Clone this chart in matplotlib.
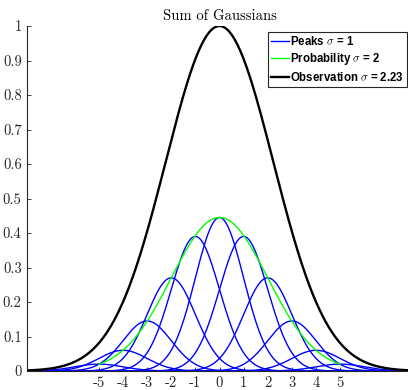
import numpy as np
import matplotlib
matplotlib.use('Agg')
import matplotlib.pyplot as plt

# peak centres and heights
centres = [-5, -4, -3, -2, -1, 0, 1, 2, 3, 4, 5]
heights = [0.02, 0.06, 0.145, 0.27, 0.39, 0.445, 0.39, 0.27, 0.145, 0.06, 0.02]
sigma_peaks = 1.0
sigma_prob = 2.0
prob_height = 0.445
sigma_obs = 2.23
obs_height = 1.0
xticks = [-5, -4, -3, -2, -1, 0, 1, 2, 3, 4, 5]
yticks = [0, 0.1, 0.2, 0.3, 0.4, 0.5, 0.6, 0.7, 0.8, 0.9, 1]
ytick_labels = ['0', '0.1', '0.2', '0.3', '0.4', '0.5', '0.6', '0.7', '0.8', '0.9', '1']

plt.rcParams['mathtext.fontset'] = 'cm'
plt.rcParams['axes.unicode_minus'] = False


def gauss(x, h, mu, s):
    return h * np.exp(-(x - mu) ** 2 / (2 * s ** 2))


fig = plt.figure(figsize=(4.08, 3.9), dpi=100)
ax = fig.add_axes([26.5 / 408, 19 / 390, 386 / 408, 345 / 390])

x = np.linspace(-8, 8, 801)
for c, h in zip(centres, heights):
    ln_peaks, = ax.plot(x, gauss(x, h, c, sigma_peaks), color='b', lw=1.0)
xp = np.linspace(-5, 5, 401)
ln_prob, = ax.plot(xp, gauss(xp, prob_height, 0, sigma_prob), color='#00ff00', lw=1.0)
ln_obs, = ax.plot(x, gauss(x, obs_height, 0, sigma_obs), color='k', lw=1.7)

ax.set_xlim(-8, 8)
ax.set_ylim(0, 1)
ax.spines['top'].set_visible(False)
ax.spines['right'].set_visible(False)
for sp in ax.spines.values():
    sp.set_color('#262626')
    sp.set_linewidth(0.8)
ax.tick_params(direction='in', length=3, width=0.6, colors='#262626', labelsize=10.5)
ax.set_xticks(xticks)
ax.set_xticklabels([str(t) for t in xticks], fontfamily='cmr10')
ax.set_yticks(yticks)
ax.set_yticklabels(ytick_labels, fontfamily='cmr10')
ax.set_title('Sum of Gaussians', fontfamily='cmr10', fontsize=10.5, pad=4)

leg = ax.legend([ln_peaks, ln_prob, ln_obs],
                [r'Peaks $\sigma$ = 1', r'Probability $\sigma$ = 2',
                 r'Observation $\sigma$ = 2.23'],
                loc='upper right', bbox_to_anchor=(407 / 408, 1 - 32 / 390),
                bbox_transform=fig.transFigure, borderaxespad=0,
                fancybox=False, framealpha=1, edgecolor='#262626',
                handlelength=1.5, handletextpad=0.15, borderpad=0.25,
                labelspacing=0.3,
                prop={'family': ['Liberation Sans', 'DejaVu Sans'],
                      'weight': 'bold', 'size': 8.3})
leg.get_frame().set_linewidth(0.8)

fig.savefig('out.png', dpi=100)
